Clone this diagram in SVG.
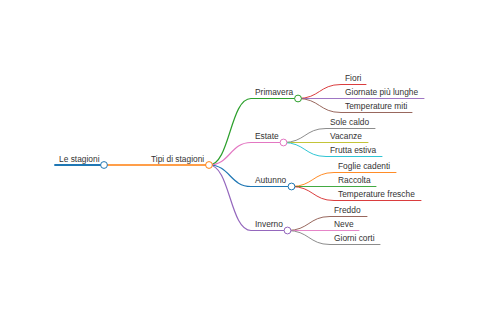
<svg xmlns="http://www.w3.org/2000/svg" width="480" height="320" viewBox="0 0 480 320">
<style>
text{font-family:"Liberation Sans",Arial,sans-serif;font-size:8.4px;fill:#333}
path,line{fill:none;stroke-linecap:round}
circle{fill:#fff;stroke-width:1}
.d0{stroke-width:1.9}
.d1{stroke-width:1.5}
.d2{stroke-width:1.2}
.d3{stroke-width:0.9}
</style>
<rect width="480" height="320" fill="#fff"/>
<g id="connectors">
<line class="d0" x1="55" y1="165" x2="104" y2="165" stroke="#1f77b4"/>
<line class="d1" x1="104" y1="165" x2="209" y2="165" stroke="#ff7f0e"/>
<path class="d2" d="M209 165C230 165 230 98.5 251 98.5H298" stroke="#2ca02c"/>
<path class="d2" d="M209 165C230 165 230 142.5 251 142.5H283.5" stroke="#e377c2"/>
<path class="d2" d="M209 165C230 165 230 186.5 251 186.5H291.5" stroke="#1f77b4"/>
<path class="d2" d="M209 165C230 165 230 230.5 251 230.5H287.5" stroke="#9467bd"/>
<path class="d3" d="M298 98.5C319.5 98.5 319.5 84.5 341 84.5H366" stroke="#d62728"/>
<path class="d3" d="M298 98.5H424" stroke="#9467bd"/>
<path class="d3" d="M298 98.5C319.5 98.5 319.5 112.5 341 112.5H412" stroke="#8c564b"/>
<path class="d3" d="M283.5 142.5C305 142.5 305 128.5 326 128.5H375" stroke="#7f7f7f"/>
<path class="d3" d="M283.5 142.5H368" stroke="#bcbd22"/>
<path class="d3" d="M283.5 142.5C305 142.5 305 156.5 326 156.5H382" stroke="#17becf"/>
<path class="d3" d="M291.5 186.5C313 186.5 313 172.5 334 172.5H396" stroke="#ff7f0e"/>
<path class="d3" d="M291.5 186.5H376" stroke="#2ca02c"/>
<path class="d3" d="M291.5 186.5C313 186.5 313 200.5 334 200.5H421" stroke="#d62728"/>
<path class="d3" d="M287.5 230.5C309 230.5 309 216.5 330 216.5H367" stroke="#8c564b"/>
<path class="d3" d="M287.5 230.5H359" stroke="#e377c2"/>
<path class="d3" d="M287.5 230.5C309 230.5 309 244.5 330 244.5H380" stroke="#7f7f7f"/>
</g>
<g id="root"><text x="59" y="161.5">Le stagioni</text><circle cx="104" cy="165" r="3.4" stroke="#1f77b4"/></g>
<g id="tipi"><text x="151" y="161.5">Tipi di stagioni</text><circle cx="209" cy="165" r="3.4" stroke="#ff7f0e"/></g>
<g id="primavera"><text x="255" y="95">Primavera</text><circle cx="298" cy="98.5" r="3.4" stroke="#2ca02c"/></g>
<g id="estate"><text x="255" y="139">Estate</text><circle cx="283.5" cy="142.5" r="3.4" stroke="#e377c2"/></g>
<g id="autunno"><text x="255" y="183">Autunno</text><circle cx="291.5" cy="186.5" r="3.4" stroke="#1f77b4"/></g>
<g id="inverno"><text x="255" y="227">Inverno</text><circle cx="287.5" cy="230.5" r="3.4" stroke="#9467bd"/></g>
<g id="fiori"><text x="345" y="81">Fiori</text></g>
<g id="giornate"><text x="345" y="95">Giornate più lunghe</text></g>
<g id="tempmiti"><text x="345" y="109">Temperature miti</text></g>
<g id="sole"><text x="330" y="125">Sole caldo</text></g>
<g id="vacanze"><text x="330" y="139">Vacanze</text></g>
<g id="frutta"><text x="330" y="153">Frutta estiva</text></g>
<g id="foglie"><text x="338" y="169">Foglie cadenti</text></g>
<g id="raccolta"><text x="338" y="183">Raccolta</text></g>
<g id="tempfresche"><text x="338" y="197">Temperature fresche</text></g>
<g id="freddo"><text x="334" y="213">Freddo</text></g>
<g id="neve"><text x="334" y="227">Neve</text></g>
<g id="giorni"><text x="334" y="241">Giorni corti</text></g>
</svg>
